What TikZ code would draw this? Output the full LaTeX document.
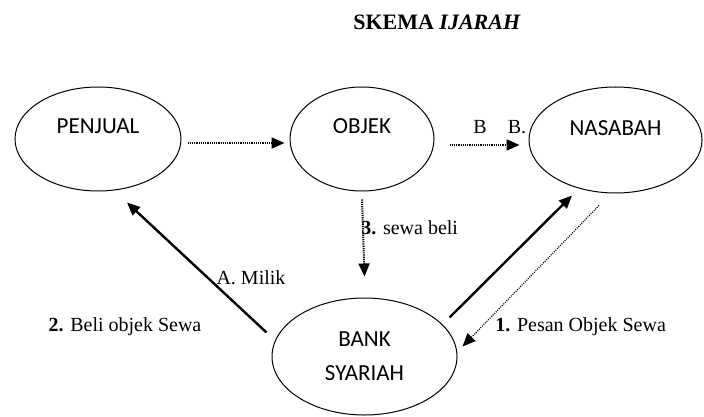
\documentclass[tikz,border=0pt]{standalone}
\usepackage{fontspec}
\setmainfont{Liberation Serif}
\newfontfamily\calibri{Carlito}
\usepackage{tikz}
\usetikzlibrary{shapes.geometric, arrows.meta}

\tikzset{
  pihak/.style={draw, ellipse, line width=0.5pt, inner sep=0pt, align=center, font=\calibri\fontsize{11.5}{17}\selectfont},
  ket/.style={inner sep=0pt, font=\fontsize{10}{12}\selectfont},
  alir/.style={line width=1pt, dash pattern=on 0.6pt off 0.5pt, -{Triangle[length=6.5pt,width=5.5pt]}},
  alirtipis/.style={line width=0.6pt, dash pattern=on 0.5pt off 0.6pt, -{Triangle[length=6.5pt,width=5.5pt]}},
  tebal/.style={line width=1.2pt, -{Triangle[length=6.5pt,width=5.5pt]}}
}

\begin{document}
\begin{tikzpicture}[x=0.5pt, y=-0.5pt, every label/.style={font=\calibri\fontsize{11.5}{17}\selectfont}]

  \useasboundingbox (0,0) rectangle (704,416);

  % Title
  \node (judul) [font=\bfseries\fontsize{11}{13}\selectfont] at (437,22) {SKEMA \textit{IJARAH}};

  % Nodes
  \node (penjual) [pihak, minimum width=83pt, minimum height=52pt, label={[yshift=6.5pt]center:PENJUAL}] at (98,139) {};
  \node (objek) [pihak, minimum width=72pt, minimum height=52pt, label={[yshift=6.5pt]center:OBJEK}] at (362,139) {};
  \node (nasabah) [pihak, minimum width=86.5pt, minimum height=53pt, label={[yshift=6pt]center:NASABAH}] at (615.5,140) {};
  \node (bank) [pihak, minimum width=92.5pt, minimum height=58.5pt] at (364.5,356.5) {BANK\\SYARIAH};

  % Labels
  \node (b1) [ket] at (480,127) {B};
  \node (b2) [ket] at (517,127) {B.};
  \node (sewabeli) [ket, anchor=west] at (361,228) {\textbf{3.} sewa beli};
  \node (milik) [ket] at (251,278) {A. Milik};
  \node (beli) [ket] at (125,327) {\textbf{2.} Beli objek Sewa};
  \node (pesan) [ket, anchor=west] at (495,327) {\textbf{1.} Pesan Objek Sewa};

  % Arrows
  \draw[alir] ([xshift=3pt,yshift=-2pt]penjual.east) -- ([xshift=-2.5pt,yshift=-2pt]objek.west);
  \draw[alir] ([xshift=7.5pt,yshift=-3pt]objek.east) -- ([xshift=-4.5pt,yshift=-2.5pt]nasabah.west);
  \draw[alir] ([yshift=-4pt]objek.south) -- ([yshift=10.5pt]bank.north);
  \draw[tebal] ([xshift=-2.5pt,yshift=12pt]bank.west) -- ([xshift=14.5pt,yshift=-5.5pt]penjual.south);
  \draw[tebal] ([xshift=-4pt,yshift=19.5pt]bank.east) -- ([xshift=-21.75pt,yshift=-1pt]nasabah.south);
  \draw[alirtipis] ([xshift=-8.25pt,yshift=-6pt]nasabah.south) -- ([xshift=2.5pt,yshift=5pt]bank.east);

\end{tikzpicture}
\end{document}
